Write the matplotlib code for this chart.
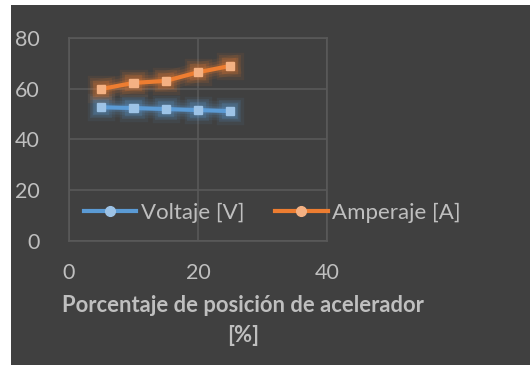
import matplotlib
matplotlib.use("Agg")
import matplotlib.pyplot as plt
import matplotlib.patheffects as pe
from matplotlib.patches import Rectangle
from matplotlib.lines import Line2D

posicion = [5, 10, 15, 20, 25]
voltaje = [52.7, 52.4, 52.0, 51.6, 51.2]
amperaje = [59.9, 62.3, 63.1, 66.5, 69.0]
x_ticks = [0, 20, 40]
y_ticks = [0, 20, 40, 60, 80]
series_names = ["Voltaje [V]", "Amperaje [A]"]
xlabel = "Porcentaje de posición de acelerador\n[%]"

plt.rcParams['font.family'] = ['Lato', 'DejaVu Sans']
W, H = 530, 365
fig = plt.figure(figsize=(W/100, H/100), dpi=100)
fig.patch.set_facecolor('white')
fig.patches.append(Rectangle((11/W, 0), 1, (H-5)/H, transform=fig.transFigure,
                             facecolor='#404040', edgecolor='none', zorder=-10))

ax = fig.add_axes([69/W, 1-241/H, (327-69)/W, (241-38)/H])
ax.set_facecolor('none')
ax.set_xlim(0, 40)
ax.set_ylim(0, 80)
ax.set_xticks(x_ticks)
ax.set_yticks(y_ticks)
ax.grid(True, color='#595959', linewidth=1.2)
ax.set_axisbelow(True)
for s in ax.spines.values():
    s.set_color('#595959')
    s.set_linewidth(1.2)
ax.tick_params(length=0, colors='#BFBFBF', labelsize=15.5)
ax.tick_params(axis='y', pad=21)
ax.tick_params(axis='x', pad=16)

tc = '#BFBFBF'
def glow(c):
    return [pe.Stroke(linewidth=14, foreground=c, alpha=0.08),
            pe.Stroke(linewidth=10, foreground=c, alpha=0.12),
            pe.Stroke(linewidth=6, foreground=c, alpha=0.2),
            pe.Normal()]

ax.plot(posicion, voltaje, color='#5B9BD5', lw=3, marker='s', ms=6,
        mfc='#9DC3E6', mec='#9DC3E6', path_effects=glow('#5B9BD5'), clip_on=False)
ax.plot(posicion, amperaje, color='#ED7D31', lw=3, marker='s', ms=6,
        mfc='#F4B183', mec='#F4B183', path_effects=glow('#ED7D31'), clip_on=False)

handles = [Line2D([], [], color='#5B9BD5', lw=3, marker='o', ms=7, mfc='#9DC3E6', mec='#9DC3E6'),
           Line2D([], [], color='#ED7D31', lw=3, marker='o', ms=7, mfc='#F4B183', mec='#F4B183')]
leg = fig.legend(handles, series_names, loc='center left', bbox_to_anchor=(84/W, 1-213/H),
                 ncol=2, frameon=False, fontsize=16, labelcolor=tc, handlelength=2.35,
                 handletextpad=0.2, columnspacing=1.4, borderaxespad=0, borderpad=0)

fig.text(243/W, 1-305/H, "Porcentaje de posición de acelerador", ha='center', va='center',
         fontsize=15.8, fontweight='bold', color=tc)
fig.text(243/W, 1-336/H, "[%]", ha='center', va='center',
         fontsize=15.8, fontweight='bold', color=tc)

fig.savefig('out.png', dpi=100, facecolor=fig.get_facecolor())
